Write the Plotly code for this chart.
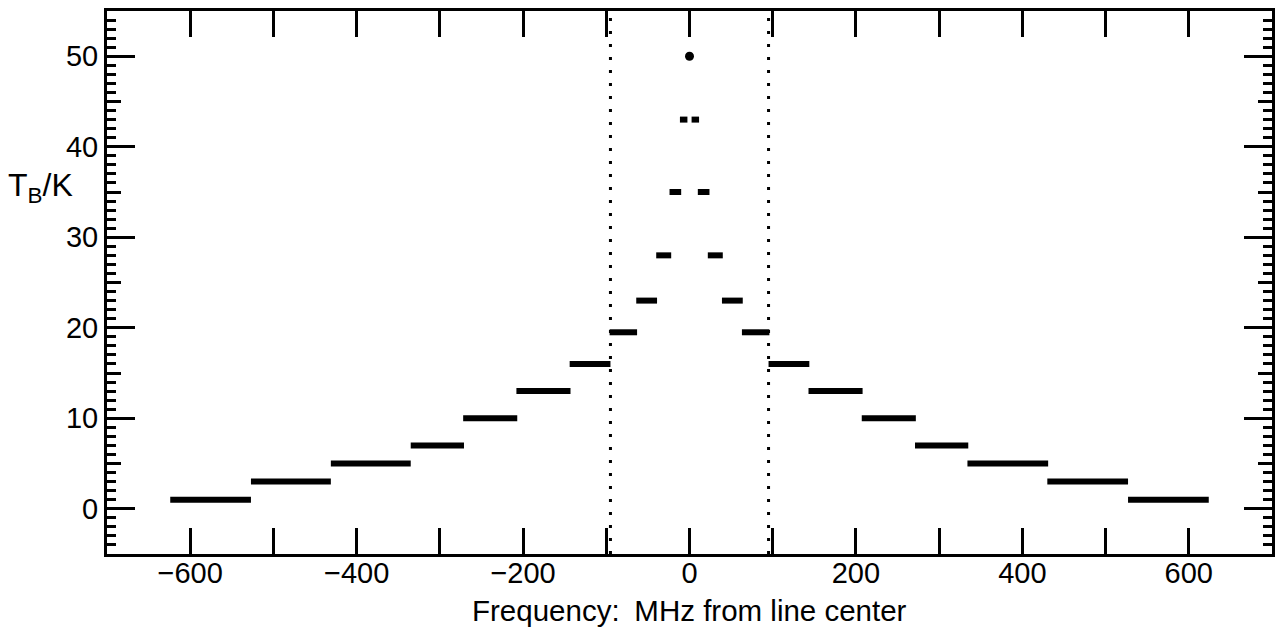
import plotly.graph_objects as go

# Channel levels (brightness temperature, K) and frequency edges (MHz)
levels = [1, 3, 5, 7, 10, 13, 16, 19.5, 23, 28, 35, 43,
          43, 35, 28, 23, 19.5, 16, 13, 10, 7, 5, 3, 1]
f_lo = [-624, -527, -431, -335, -272, -208, -144, -96, -64, -40, -24, -11.5,
        2.5, 10, 22, 39, 63, 95, 143, 207, 271, 334, 430, 527]
f_hi = [-527, -431, -335, -271, -207, -143, -95, -63, -39, -22, -10, -2.5,
        11.5, 24, 40, 64, 96, 144, 208, 272, 335, 431, 527, 624]
peak_f = [0]
peak_t = [50]
cut_f = [-95, 95]
x_ticks = [-600, -400, -200, 0, 200, 400, 600]
y_ticks = [0, 10, 20, 30, 40, 50]
y_mid_ticks = [5, 15, 25, 35, 45]

FONT = "Liberation Sans"

xs, ys = [], []
for t, a, b in zip(levels, f_lo, f_hi):
    xs += [a, b, None]
    ys += [t, t, None]

fig = go.Figure()
fig.add_trace(go.Scatter(x=xs, y=ys, mode="lines",
                         line=dict(color="black", width=6), hoverinfo="skip"))
fig.add_trace(go.Scatter(x=peak_f, y=peak_t, mode="markers",
                         marker=dict(color="black", size=9)))
for c in cut_f:
    fig.add_trace(go.Scatter(x=[c, c], y=[-5, 55], mode="lines",
                             line=dict(color="black", width=3, dash="3px,10px")))

# invisible trace for mid-tick overlay axis
fig.add_trace(go.Scatter(x=[None], y=[None], yaxis="y2", showlegend=False))

fig.update_layout(
    width=1278, height=628,
    margin=dict(l=107, r=6, t=11, b=74, autoexpand=False),
    plot_bgcolor="white", paper_bgcolor="white",
    showlegend=False,
    font=dict(family=FONT, color="black"),
    xaxis=dict(range=[-700, 700], tickvals=x_ticks, ticks="inside",
               ticklen=26, tickwidth=2.5, tickcolor="black",
               minor=dict(dtick=100, tick0=0, ticklen=13, tickwidth=2.5,
                          tickcolor="black", ticks="inside"),
               showline=True, linewidth=3, linecolor="black", mirror="allticks",
               showgrid=False, zeroline=False, automargin=False,
               tickfont=dict(size=29, family=FONT), ticklabelstandoff=-9),
    yaxis=dict(range=[-5, 55], tickvals=y_ticks, ticks="inside",
               ticklen=28, tickwidth=2.5, tickcolor="black",
               minor=dict(dtick=1, tick0=0, ticklen=9, tickwidth=2.5,
                          tickcolor="black", ticks="inside"),
               showline=True, linewidth=3, linecolor="black", mirror="allticks",
               showgrid=False, zeroline=False, automargin=False,
               tickfont=dict(size=29, family=FONT), ticklabelstandoff=0),
    yaxis2=dict(range=[-5, 55], overlaying="y", side="left",
                tickvals=y_mid_ticks, ticks="inside", ticklen=14,
                tickwidth=2.5, tickcolor="black", showticklabels=False,
                showline=False, mirror="ticks", showgrid=False, zeroline=False,
                automargin=False),
    annotations=[
        dict(text="T<sub>B</sub>/K", xref="paper", yref="y",
             x=-0.0867, y=35.5, xanchor="left", yanchor="middle",
             showarrow=False, font=dict(size=32, family=FONT)),
        dict(text="Frequency:\u2002MHz from line center", xref="paper", yref="paper",
             x=0.5, y=-0.138, xanchor="center", yanchor="bottom",
             showarrow=False, font=dict(size=29.5, family=FONT)),
    ],
)

fig.write_html("out.html", config={"displayModeBar": False},
               post_script="document.body.style.margin='0';")
